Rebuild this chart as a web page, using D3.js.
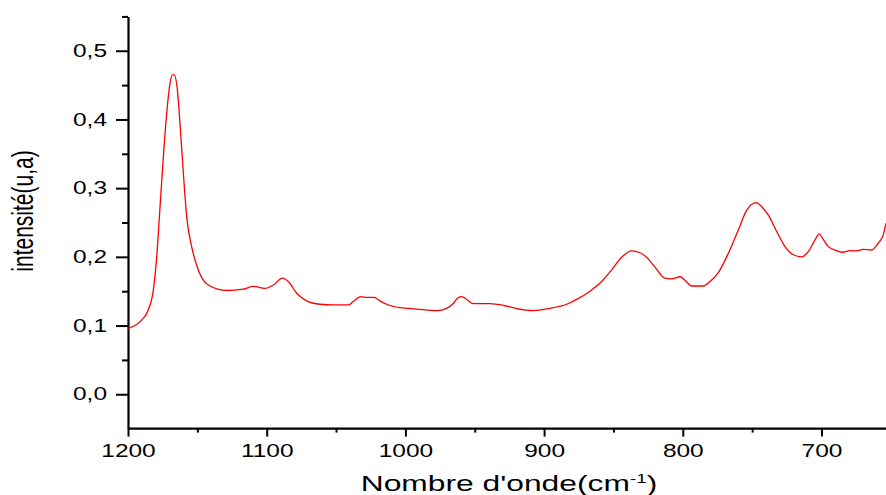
<!DOCTYPE html>
<html><head><meta charset="utf-8">
<script src="https://cdn.jsdelivr.net/npm/d3@7"></script>
<style>body{margin:0;background:#fff}svg{display:block}</style>
</head><body>
<script>
// wavenumber (cm-1)
const wavenumber = [1200,1191.3,1185.4,1181.7,1179.3,1176.9,1174.5,1172.1,1169.7,1168,1166.6,1164.4,1162.5,1160.1,1157.7,1154.1,1149.3,1142.1,1128.8,1116.8,1109.7,1101.2,1095.2,1088.7,1084.4,1078.4,1071.2,1061.6,1052,1041.2,1037.6,1032.2,1027.9,1022.6,1018.4,1013.5,1003.9,991.9,977.4,970.2,965.5,961.9,959.2,955.8,951,939,929.4,919.8,907.8,895.7,883.7,876.5,866.9,858.5,851.3,844.1,836.9,830.9,826.1,820,812.9,808,802,798.4,793.6,785.2,780.4,774.4,767.2,760,753.9,747.2,743.1,738.4,732.3,726.3,720.3,714.4,709.5,704.7,701.6,699.9,695.1,689.1,684.3,679.5,674.7,669.9,663.9,659.1,655.5,653.5];
// intensity (u,a)
const intensity = [0.096,0.1057,0.1227,0.152,0.200,0.273,0.346,0.409,0.453,0.465,0.465,0.443,0.394,0.322,0.259,0.215,0.181,0.159,0.151,0.153,0.157,0.154,0.159,0.169,0.164,0.147,0.136,0.131,0.130,0.130,0.135,0.142,0.141,0.141,0.136,0.131,0.126,0.124,0.1217,0.125,0.132,0.1406,0.142,0.138,0.132,0.132,0.1295,0.1246,0.1217,0.125,0.131,0.138,0.150,0.164,0.181,0.1994,0.2086,0.206,0.1994,0.185,0.169,0.168,0.171,0.166,0.1576,0.1576,0.164,0.177,0.205,0.239,0.268,0.279,0.273,0.261,0.237,0.215,0.203,0.200,0.2076,0.2246,0.2333,0.229,0.2149,0.209,0.2067,0.209,0.2086,0.211,0.210,0.2198,0.232,0.249];
const xTicks = [1200,1100,1000,900,800,700];
const xMinor = [1150,1050,950,850,750];
const yTicks = [0,0.1,0.2,0.3,0.4,0.5];
const yMinor = [0.05,0.15,0.25,0.35,0.45,0.55];

const W = 886, H = 495;
const svg = d3.select("body").append("svg").attr("width", W).attr("height", H);
const x = d3.scaleLinear().domain([1200, 650]).range([128, 128 + 550 * 1.387]);
const y = d3.scaleLinear().domain([-0.05, 0.55]).range([428.6, 16.4]);
const fmt = v => d3.format(".1f")(v).replace(".", ",");
const SX = 1.4;

// minor ticks
const gxm = svg.append("g").attr("transform", "translate(0,428.6)")
  .call(d3.axisBottom(x).tickValues(xMinor).tickSize(4).tickFormat(""));
const gym = svg.append("g").attr("transform", "translate(128,0)")
  .call(d3.axisLeft(y).tickValues(yMinor).tickSize(6).tickFormat(""));
[gxm, gym].forEach(g => { g.select(".domain").remove(); g.selectAll("line").attr("stroke", "#000").attr("stroke-width", 2); });

// x axis
const gx = svg.append("g").attr("transform", "translate(0,428.6)")
  .call(d3.axisBottom(x).tickValues(xTicks).tickSize(8).tickSizeOuter(0).tickPadding(8).tickFormat(d3.format("d")));
gx.select(".domain").attr("stroke", "#000").attr("stroke-width", 2.2).attr("d", `M128,0H${W}`);
gx.selectAll(".tick line").attr("stroke", "#000").attr("stroke-width", 2);
gx.selectAll(".tick text").attr("font-family", "Liberation Sans, Arial, sans-serif").attr("font-size", 17.5)
  .attr("fill", "#000").attr("transform", `scale(${SX},1)`);

// y axis
const gy = svg.append("g").attr("transform", "translate(128,0)")
  .call(d3.axisLeft(y).tickValues(yTicks).tickSize(12).tickSizeOuter(0).tickPadding(9).tickFormat(fmt));
gy.select(".domain").attr("stroke", "#000").attr("stroke-width", 2.2);
gy.selectAll(".tick line").attr("stroke", "#000").attr("stroke-width", 2);
gy.selectAll(".tick text").attr("font-family", "Liberation Sans, Arial, sans-serif").attr("font-size", 17.5)
  .attr("fill", "#000").attr("x", -21 / SX).attr("transform", `scale(${SX},1)`);

// curve
const pts = wavenumber.map((w, i) => [w, intensity[i]]);
svg.append("path").datum(pts)
  .attr("fill", "none").attr("stroke", "#ff0000").attr("stroke-width", 1.3)
  .attr("d", d3.line().x(d => x(d[0])).y(d => y(d[1])).curve(d3.curveMonotoneX));

// axis titles
const xt = svg.append("text").attr("transform", `translate(509,491) scale(${SX},1)`)
  .attr("text-anchor", "middle").attr("font-family", "Liberation Sans, Arial, sans-serif")
  .attr("font-size", 22.7).attr("fill", "#000");
xt.append("tspan").text("Nombre d'onde(cm");
xt.append("tspan").attr("dy", -8).attr("font-size", 13.5).text("-1");
xt.append("tspan").attr("dy", 8).text(")");

svg.append("text").attr("transform", `translate(33,211) scale(${SX},1) rotate(-90)`)
  .attr("text-anchor", "middle").attr("font-family", "Liberation Sans, Arial, sans-serif")
  .attr("font-size", 21).attr("fill", "#000").text("intensité(u,a)");
</script>
</body></html>
